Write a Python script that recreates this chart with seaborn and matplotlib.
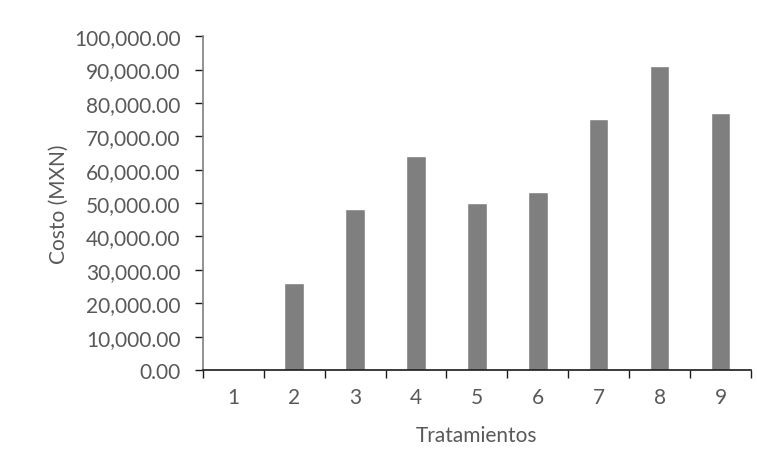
import pandas as pd
import matplotlib.pyplot as plt
import seaborn as sns
from matplotlib.ticker import FuncFormatter, FixedLocator

tratamientos = ['1', '2', '3', '4', '5', '6', '7', '8', '9']
costo = [0, 26000, 48200, 64000, 50000, 53200, 75100, 91000, 77000]

df = pd.DataFrame({'Tratamientos': tratamientos, 'Costo': costo})

sns.set_style('white')
plt.rcParams['font.family'] = ['Lato', 'DejaVu Sans']
txt = '#595959'

fig = plt.figure(figsize=(7.57, 4.64), dpi=100)
ax = fig.add_axes([0.268, 0.2004, 0.724, 0.7196])

sns.barplot(data=df, x='Tratamientos', y='Costo', color='#7f7f7f', width=0.32,
            saturation=1, ax=ax)

ax.set_ylim(0, 100000)
ax.set_xlim(-0.5, 8.5)
ax.set_yticks(range(0, 100001, 10000))
ax.yaxis.set_major_formatter(FuncFormatter(lambda v, p: f'{v:,.2f}'))

# ticks between the categories, like excel
ax.xaxis.set_minor_locator(FixedLocator([i - 0.5 for i in range(len(tratamientos) + 1)]))
ax.tick_params(axis='x', which='major', bottom=True, length=0, pad=12, labelsize=15, labelcolor=txt)
ax.tick_params(axis='x', which='minor', bottom=True, length=6, width=1, color='#1a1a1a', direction='out')
ax.tick_params(axis='y', which='major', left=True, length=6, width=1, color='#1a1a1a', direction='out',
               pad=10, labelsize=15, labelcolor=txt)

for s in ['top', 'right']:
    ax.spines[s].set_visible(False)
ax.spines['left'].set_color('#7f7f7f')
ax.spines['left'].set_linewidth(1.2)
ax.spines['bottom'].set_color('#1a1a1a')
ax.spines['bottom'].set_linewidth(1.2)

ax.set_xlabel('Tratamientos', fontsize=15, color=txt, labelpad=13)
ax.set_ylabel('Costo (MXN)', fontsize=15, color=txt, labelpad=4)

fig.savefig('out.png', dpi=100)
